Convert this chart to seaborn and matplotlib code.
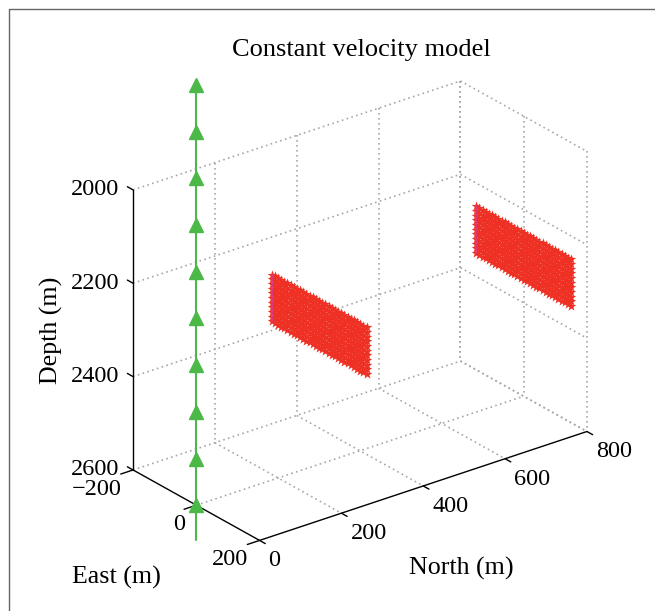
import numpy as np
import matplotlib
matplotlib.use("Agg")
import matplotlib.pyplot as plt
import matplotlib.transforms as mtransforms
from matplotlib.lines import Line2D
import seaborn as sns
from mpl_toolkits.mplot3d import Axes3D, proj3d  # noqa: F401

# ---- data ----
receiver_depths = [1700, 1800, 1900, 2000, 2100, 2200, 2300, 2400, 2500, 2600]
receiver_north = 0
receiver_east = 0
well_depth = [1700, 2675]
fault_north = [300, 800]
fault_east_range = [-150, 150]
fault_depth_range = [2250, 2350]
grid_step = 10

north_ticks = [0, 200, 400, 600, 800]
east_ticks = [-200, 0, 200]
depth_ticks = [2000, 2200, 2400, 2600]
north_lim = [0, 800]
east_lim = [-200, 200]
depth_lim = [2000, 2600]

GREEN = "#4cb848"
RED = "#ee3124"
MAGENTA = "#d63a8c"
GRID = "#a8a8a8"
FS = 17.5
FL = 18.7

sns.set_theme(style="white")
plt.rcParams["font.family"] = ["Liberation Serif", "DejaVu Serif"]

fig = plt.figure(figsize=(6.55, 6.11), dpi=100)
ax = fig.add_axes([0.037, -0.022, 1.0, 1.0], projection="3d")
ax.set_proj_type("ortho")
ax.computed_zorder = False
ax.set_axis_off()

e0, e1 = east_lim
n0, n1 = north_lim
d0, d1 = depth_lim

# dotted grid on the three back faces (MATLAB style)
g = dict(color=GRID, lw=1.2, linestyle=(0, (1, 2)), zorder=1)
for n in north_ticks[1:]:
    ax.plot([e0, e0], [n, n], [d0, d1], **g)          # west wall verticals
    ax.plot([e0, e1], [n, n], [d1, d1], **g)          # floor, along east
for d in depth_ticks[:-1]:
    ax.plot([e0, e0], [n0, n1], [d, d], **g)          # west wall horizontals
for d in depth_ticks:
    ax.plot([e0, e1], [n1, n1], [d, d], **g)          # north wall horizontals
for e in east_ticks:
    ax.plot([e, e], [n1, n1], [d0, d1], **g)          # north wall verticals
for e in east_ticks[:-1]:
    ax.plot([e, e], [n0, n1], [d1, d1], **g)          # floor, along north

# fault planes of events
ee = np.arange(fault_east_range[0], fault_east_range[1] + 1, grid_step)
dd = np.arange(fault_depth_range[0], fault_depth_range[1] + 1, grid_step)
E, D = np.meshgrid(ee, dd)
for n in fault_north:
    ax.scatter(E.ravel(), np.full(E.size, n), D.ravel(), marker="*", s=55,
               color=RED, linewidths=0, depthshade=False, zorder=2)
    ax.plot([fault_east_range[0]] * 2, [n, n], fault_depth_range, color=MAGENTA,
            lw=1.2, zorder=3)

ax.set_xlim(*east_lim)
ax.set_ylim(*north_lim)
ax.set_zlim(d1, d0)
ax.set_box_aspect((400, 800, 600), zoom=0.885)
ax.view_init(elev=25.5, azim=-37.7)

# MATLAB-like axis lines and ticks
k = dict(color="black", lw=1.0, zorder=4)
ax.plot([e0, e0], [n0, n0], [d0, d1], **k)          # depth axis
ax.plot([e0, e1], [n0, n0], [d1, d1], **k)          # east axis
ax.plot([e1, e1], [n0, n1], [d1, d1], **k)          # north axis
for d in depth_ticks:
    ax.plot([e0, e0 - 18], [n0, n0], [d, d], **k)
for e in east_ticks:
    ax.plot([e, e], [n0, n0 - 30], [d1, d1], **k)
for n in north_ticks:
    ax.plot([e1, e1 + 18], [n, n], [d1, d1], **k)

# well and receivers
ax.plot([receiver_east, receiver_east], [receiver_north, receiver_north], well_depth,
        color=GREEN, lw=1.5, zorder=5)
ax.plot([receiver_east] * len(receiver_depths), [receiver_north] * len(receiver_depths),
        receiver_depths, linestyle="none", marker="^", ms=10, color=GREEN, zorder=6)

# tick labels: project the 3D tick positions with the axes' own projection
fig.canvas.draw()
M = ax.get_proj()


def place(x, y, z, s, dx, dy, **kw):
    px, py, _ = proj3d.proj_transform(x, y, z, M)
    tr = mtransforms.offset_copy(ax.transData, fig=fig, x=dx, y=dy, units="dots")
    fig.text(px, py, s, transform=tr, fontsize=FS, color="black", **kw)


for d in depth_ticks:
    place(e0, n0, d, f"{d}", -14, 0, ha="right", va="center")
for e in east_ticks:
    place(e, n0, d1, f"{e}".replace("-", "\u2212"), -11, -9, ha="right", va="top")
for n in north_ticks:
    place(e1, n, d1, f"{n}", 9, -10, ha="left", va="top")

fig.text(0.551, 0.918, "Constant velocity model", ha="center", va="center",
         fontsize=19, color="black")
fig.text(0.078, 0.46, "Depth (m)", rotation=90, ha="center", va="center",
         fontsize=FL, color="black")
fig.text(0.178, 0.055, "East (m)", ha="center", va="center", fontsize=FL, color="black")
fig.text(0.705, 0.069, "North (m)", ha="center", va="center", fontsize=FL, color="black")

# figure frame (top and left edges)
fig.add_artist(Line2D([0.014, 1.0], [0.985, 0.985], transform=fig.transFigure,
                      color="#666666", lw=1.0))
fig.add_artist(Line2D([0.014, 0.014], [0.0, 0.985], transform=fig.transFigure,
                      color="#666666", lw=1.0))

fig.savefig("out.png", dpi=100, facecolor="white")
